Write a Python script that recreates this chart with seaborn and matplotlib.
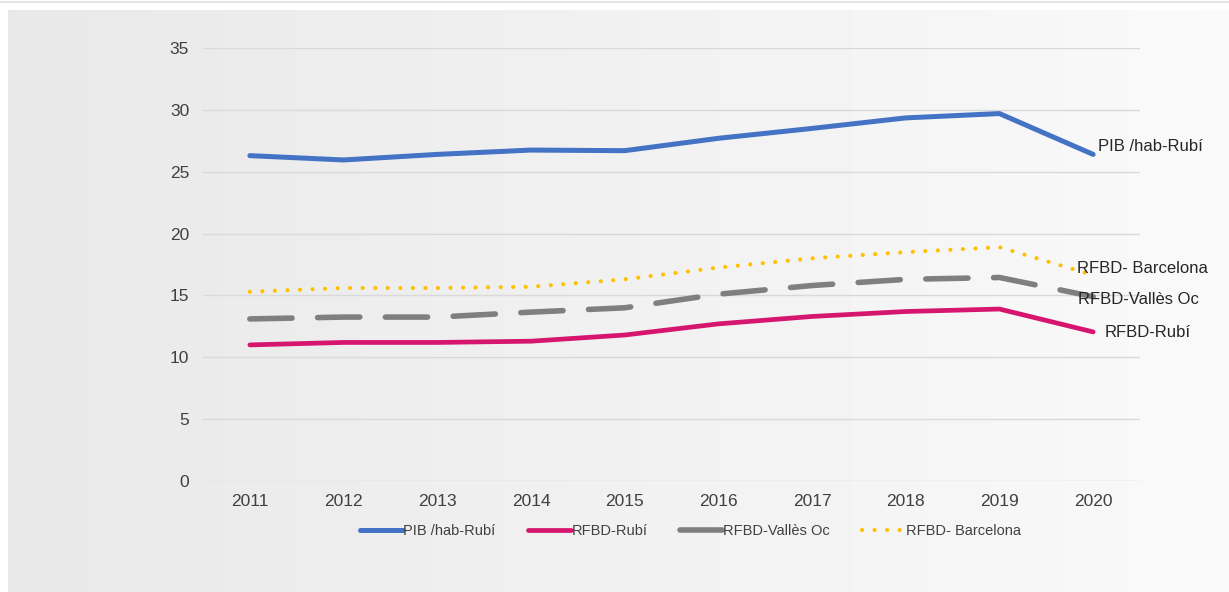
import numpy as np
import pandas as pd
import matplotlib
matplotlib.use("Agg")
import matplotlib.pyplot as plt
import seaborn as sns

# data
years = [2011, 2012, 2013, 2014, 2015, 2016, 2017, 2018, 2019, 2020]
pib_rubi = [26.3, 25.95, 26.4, 26.75, 26.7, 27.7, 28.5, 29.35, 29.7, 26.4]
rfbd_rubi = [11.0, 11.2, 11.2, 11.3, 11.8, 12.7, 13.3, 13.7, 13.9, 12.05]
rfbd_valles = [13.1, 13.25, 13.25, 13.65, 14.0, 15.1, 15.8, 16.3, 16.45, 14.9]
rfbd_bcn = [15.3, 15.6, 15.6, 15.7, 16.3, 17.25, 18.0, 18.5, 18.9, 16.65]

names = ["PIB /hab-Rubí", "RFBD-Rubí", "RFBD-Vallès Oc", "RFBD- Barcelona"]
colors = ["#4472c4", "#d6156e", "#7f7f7f", "#ffc000"]

df = pd.DataFrame({"year": years * 4,
                   "value": pib_rubi + rfbd_rubi + rfbd_valles + rfbd_bcn,
                   "serie": sum([[n] * len(years) for n in names], [])})

sns.set_style("white")
plt.rcParams["font.family"] = ["Liberation Sans", "DejaVu Sans"]

fig = plt.figure(figsize=(12.29, 5.92), dpi=100)
fig.patch.set_facecolor("white")

# grey gradient panel behind the chart
bg = fig.add_axes([8 / 1229, 0, 1 - 8 / 1229, 1 - 10 / 592], zorder=0)
grad = np.linspace(0.91, 0.978, 256).reshape(1, -1)
bg.imshow(grad, aspect="auto", cmap="gray", vmin=0, vmax=1, extent=[0, 1, 0, 1])
bg.axis("off")
fig.add_artist(plt.Line2D([0, 1], [1 - 1.5 / 592, 1 - 1.5 / 592], color="#e4e4e4", lw=1.5))

ax = fig.add_axes([203 / 1229, 1 - 481 / 592, (1140 - 203) / 1229, (481 - 48) / 592], zorder=1)
ax.patch.set_alpha(0)

styles = {
    "PIB /hab-Rubí": dict(lw=3.6, solid_capstyle="round"),
    "RFBD-Rubí": dict(lw=3.4, solid_capstyle="round"),
    "RFBD-Vallès Oc": dict(lw=4.0, dashes=(7.6, 4.6), dash_capstyle="round"),
    "RFBD- Barcelona": dict(lw=3.0, dashes=(0.01, 3.0), dash_capstyle="round"),
}

for name, col in zip(names, colors):
    sub = df[df["serie"] == name]
    kw = dict(styles[name])
    dashes = kw.pop("dashes", None)
    sns.lineplot(data=sub, x="year", y="value", color=col, ax=ax, label=name, **kw)
    if dashes is not None:
        ax.lines[-1].set_dashes(dashes)

ax.set_xlim(2010.5, 2020.5)
ax.set_ylim(0, 35)
ax.set_xticks(years)
ax.set_yticks(range(0, 36, 5))
ax.set_xlabel("")
ax.set_ylabel("")
ax.grid(axis="y", color="#d9d9d9", lw=1)
ax.set_axisbelow(True)
for s in ax.spines.values():
    s.set_visible(False)
ax.tick_params(axis="both", length=0, labelsize=12.5, labelcolor="#404040")
ax.tick_params(axis="y", pad=10)
ax.tick_params(axis="x", pad=9)

# end labels
end_offsets = {"PIB /hab-Rubí": (3.5, 6), "RFBD-Rubí": (8.6, -0.7),
               "RFBD-Vallès Oc": (-11, -2), "RFBD- Barcelona": (-11.5, 5)}
last = {"PIB /hab-Rubí": pib_rubi[-1], "RFBD-Rubí": rfbd_rubi[-1],
        "RFBD-Vallès Oc": rfbd_valles[-1], "RFBD- Barcelona": rfbd_bcn[-1]}
for name in names:
    ax.annotate(name, (years[-1], last[name]), xytext=end_offsets[name],
                textcoords="offset points", fontsize=12, color="#262626",
                va="center", ha="left", annotation_clip=False)

leg = ax.legend(loc="upper center", bbox_to_anchor=(0.52, -0.07), ncol=4, frameon=False,
                fontsize=10.5, handlelength=3.0, columnspacing=2.2, handletextpad=0.0,
                labelcolor="#404040")

fig.savefig("out.png", dpi=100)
